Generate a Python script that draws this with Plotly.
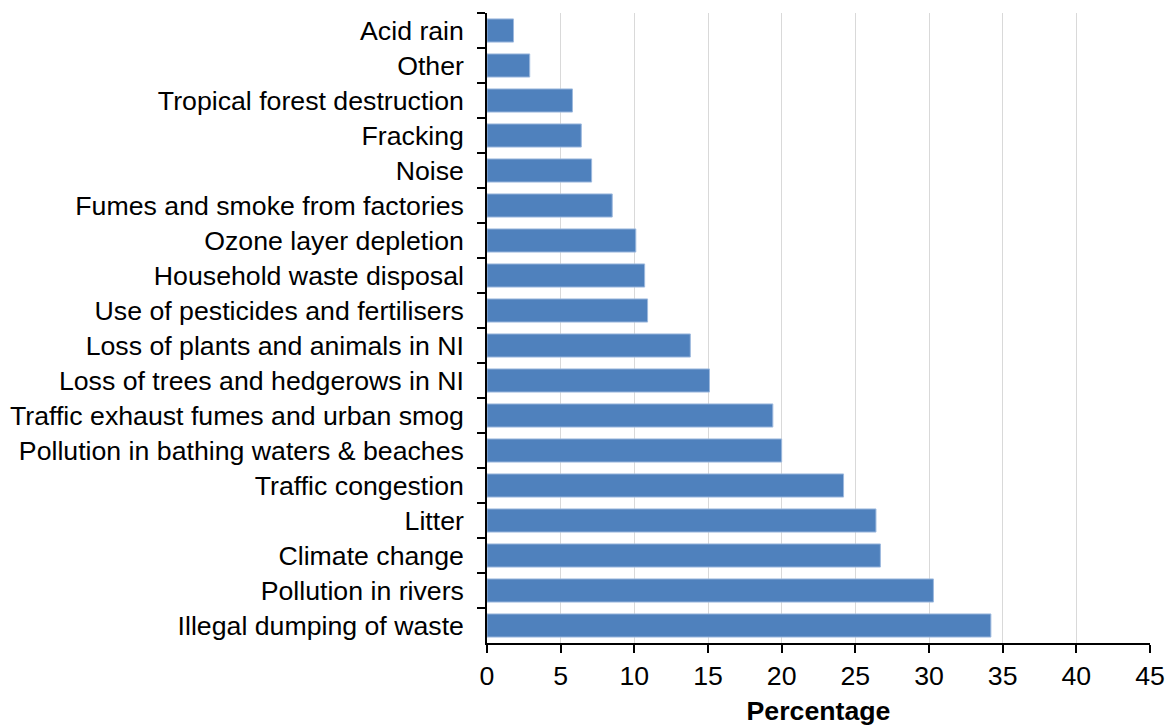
import plotly.graph_objects as go

categories = [
    "Acid rain", "Other", "Tropical forest destruction", "Fracking", "Noise",
    "Fumes and smoke from factories", "Ozone layer depletion", "Household waste disposal",
    "Use of pesticides and fertilisers", "Loss of plants and animals in NI",
    "Loss of trees and hedgerows in NI", "Traffic exhaust fumes and urban smog",
    "Pollution in bathing waters & beaches", "Traffic congestion", "Litter",
    "Climate change", "Pollution in rivers", "Illegal dumping of waste",
]
values = [1.8, 2.9, 5.8, 6.4, 7.1, 8.5, 10.1, 10.7, 10.9, 13.8, 15.1, 19.4, 20.0, 24.2, 26.4, 26.7, 30.3, 34.2]
x_ticks = [0, 5, 10, 15, 20, 25, 30, 35, 40, 45]

fig = go.Figure(go.Bar(
    x=values, y=categories, orientation="h",
    marker=dict(color="#4F81BD", line=dict(color="#9DB9DE", width=1)),
    hoverinfo="x+y",
))

font_family = "Liberation Sans, Arial, sans-serif"
fs = 26.7
fig.update_layout(
    width=1168, height=726,
    margin=dict(l=487, r=18, t=13, b=83),
    paper_bgcolor="white", plot_bgcolor="white",
    bargap=0.34,
    showlegend=False,
    font=dict(family=font_family, size=fs, color="black"),
    xaxis=dict(
        range=[0, 45], tickvals=x_ticks, ticktext=[str(t) for t in x_ticks],
        showgrid=True, gridcolor="#D9D9D9", gridwidth=1,
        showline=True, linecolor="black", linewidth=1.5,
        ticks="outside", ticklen=8, tickcolor="black", tickwidth=1.5,
        tickfont=dict(size=fs), zeroline=False, automargin=False,
        title=dict(text="<b>Percentage</b>", font=dict(size=fs), standoff=24),
    ),
    yaxis=dict(
        autorange="reversed", tickson="boundaries",
        showgrid=False, showline=True, linecolor="black", linewidth=1.5,
        ticks="outside", ticklen=8, tickcolor="black", tickwidth=1.5,
        tickfont=dict(size=fs), ticklabelstandoff=16, automargin=False,
    ),
)

# remove the default page margin so the figure fills the window exactly
fig.write_html(
    "out.html",
    config={"displayModeBar": False},
    post_script="document.body.style.margin='0';document.body.style.overflow='hidden';",
)
